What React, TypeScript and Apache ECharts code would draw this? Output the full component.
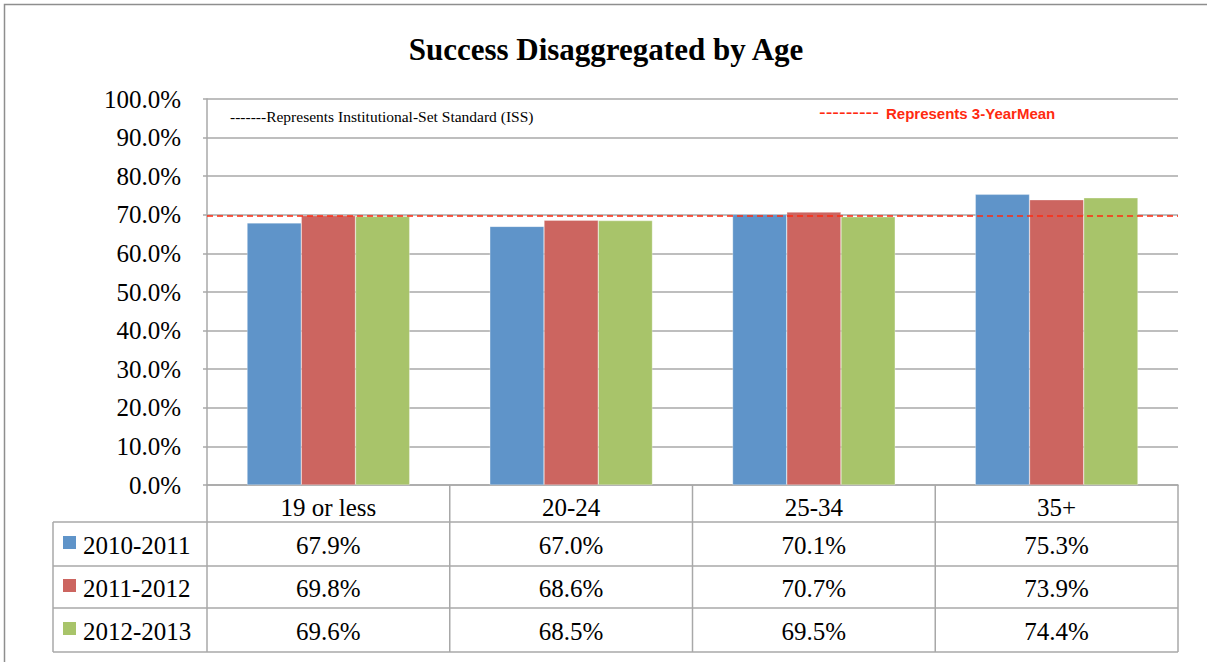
import { useEffect, useRef } from "react";
import * as echarts from "echarts";

const categories = ["19 or less", "20-24", "25-34", "35+"];
const seriesNames = ["2010-2011", "2011-2012", "2012-2013"];
const values2010 = [67.9, 67.0, 70.1, 75.3];
const values2011 = [69.8, 68.6, 70.7, 73.9];
const values2012 = [69.6, 68.5, 69.5, 74.4];
const seriesColors = ["#5F94C9", "#CC6560", "#A8C46A"];
const threeYearMean = 69.7;
const titleText = "Success Disaggregated by Age";
const issNote = "-------Represents Institutional-Set Standard (ISS)";
const meanNoteDashes = "---------";
const meanNote = "Represents 3-YearMean";

const W = 1207;
const H = 662;
const GL = 207;
const GR = 1178;
const GT = 99;
const GB = 485;
const TABLE_LEFT = 53;
const ROW_LINES = [522, 566, 608, 652];
const GRAY = "#A8A8A8";
const SERIF = "Liberation Serif";

export default function App() {
  const ref = useRef<HTMLDivElement>(null);
  useEffect(() => {
    document.body.style.margin = "0";
    const chart = echarts.init(ref.current!, undefined, { renderer: "svg" });
    const allSeries = [values2010, values2011, values2012];
    const colW = (GR - GL) / categories.length;
    const graphics: any[] = [];
    const txt = (text: string, x: number, y: number, size: number, opts: any = {}) => ({
      type: "text",
      silent: true,
      style: {
        text, x, y,
        fontFamily: opts.family || SERIF,
        fontSize: size,
        fontWeight: opts.weight || "normal",
        fill: opts.fill || "#000",
        textAlign: opts.align || "left",
        textVerticalAlign: "middle",
      },
    });
    graphics.push({
      type: "rect",
      shape: { x: 4.5, y: 4.5, width: 1400, height: 900 },
      style: { fill: "none", stroke: "#8E8E8E", lineWidth: 1.5 },
      silent: true,
    });
    graphics.push(txt(titleText, 606, 49, 31, { weight: "bold", align: "center" }));
    graphics.push(txt(issNote, 230, 116, 15.5));
    graphics.push(txt(meanNoteDashes, 819, 112, 20, { family: "Liberation Sans", fill: "#FF2A10" }));
    graphics.push(txt(meanNote, 886, 113, 15, { family: "Liberation Sans", weight: "bold", fill: "#FF2A10" }));
    const lineStyle = { stroke: GRAY, lineWidth: 1.5 };
    ROW_LINES.forEach((y) => {
      graphics.push({
        type: "line",
        shape: { x1: TABLE_LEFT, y1: y, x2: GR, y2: y },
        style: lineStyle, silent: true,
      });
    });
    graphics.push({
      type: "line",
      shape: { x1: TABLE_LEFT, y1: ROW_LINES[0], x2: TABLE_LEFT, y2: ROW_LINES[ROW_LINES.length - 1] },
      style: lineStyle, silent: true,
    });
    for (let i = 0; i <= categories.length; i++) {
      const x = GL + i * colW;
      graphics.push({
        type: "line",
        shape: { x1: x, y1: GB, x2: x, y2: ROW_LINES[ROW_LINES.length - 1] },
        style: lineStyle, silent: true,
      });
    }
    allSeries.forEach((vals, r) => {
      const yMid = (ROW_LINES[r] + ROW_LINES[r + 1]) / 2 + 1;
      graphics.push({
        type: "rect",
        shape: { x: 63, y: yMid - 9, width: 13, height: 13 },
        style: { fill: seriesColors[r] },
        silent: true,
      });
      graphics.push(txt(seriesNames[r], 83, yMid, 25));
      vals.forEach((v, c) => {
        graphics.push(txt(v.toFixed(1) + "%", GL + (c + 0.5) * colW, yMid, 25, { align: "center" }));
      });
    });

    chart.setOption({
      animation: false,
      backgroundColor: "#fff",
      grid: { left: GL, right: W - GR, top: GT, bottom: H - GB, containLabel: false },
      xAxis: {
        type: "category",
        data: categories,
        axisLine: { show: true, lineStyle: { color: GRAY, width: 1.5 } },
        axisTick: { show: false },
        axisLabel: { show: true, margin: 10, fontFamily: SERIF, fontSize: 25, color: "#000" },
      },
      yAxis: {
        type: "value",
        min: 0,
        max: 100,
        interval: 10,
        axisLine: { show: true, lineStyle: { color: GRAY, width: 1.5 } },
        axisTick: { show: true, length: 4, lineStyle: { color: GRAY, width: 1.5 } },
        axisLabel: {
          margin: 26, fontFamily: SERIF, fontSize: 25, color: "#000",
          padding: [6, 0, 0, 0],
          formatter: (v: number) => v.toFixed(1) + "%",
        },
        splitLine: { show: true, lineStyle: { color: GRAY, width: 1.5 } },
      },
      series: allSeries.map((vals, i) => ({
        name: seriesNames[i],
        type: "bar",
        data: vals,
        barGap: "0%",
        barCategoryGap: "33%",
        itemStyle: { color: seriesColors[i], borderColor: "rgba(255,255,255,0.6)", borderWidth: 0.5 },
        markLine: i === 0 ? {
          silent: true,
          symbol: "none",
          label: { show: false },
          lineStyle: { color: "#FF2A10", type: [6, 4], width: 1.5 },
          data: [{ yAxis: threeYearMean }],
        } : undefined,
      })),
      graphic: graphics,
    });
    return () => chart.dispose();
  }, []);
  return <div ref={ref} style={{ width: W, height: H }} />;
}
